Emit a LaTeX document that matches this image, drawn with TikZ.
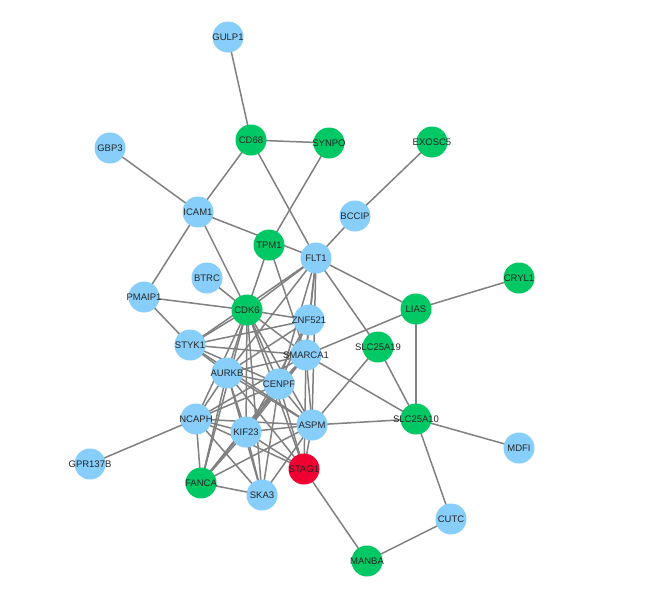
\documentclass[tikz,border=0pt]{standalone}
\usepackage{fontspec}
\setmainfont{Liberation Sans}
\definecolor{nblue}{RGB}{135,206,250}
\definecolor{ngreen}{RGB}{0,200,100}
\definecolor{nred}{RGB}{240,0,50}
\definecolor{edgegray}{RGB}{128,128,128}
\begin{document}
\begin{tikzpicture}[x=1pt,y=-1pt,
  lab/.style={text=black!85,font=\fontsize{9.5}{10}\selectfont,inner sep=0pt},
  gene/.style={circle,minimum size=31pt,inner sep=0pt,label={[lab]center:#1}},
  bg/.style={gene=#1,fill=nblue},
  gg/.style={gene=#1,fill=ngreen},
  rg/.style={gene=#1,fill=nred},
  link/.style={draw=edgegray,line width=1.5pt}]
\useasboundingbox (0,0) rectangle (660,600);
\fill[white] (0,0) rectangle (660,600);
\path
 (228,37) coordinate (cGULP1)
 (110,148) coordinate (cGBP3)
 (251,140) coordinate (cCD68)
 (329,143) coordinate (cSYNPO)
 (432,142) coordinate (cEXOSC5)
 (198,212) coordinate (cICAM1)
 (355,216) coordinate (cBCCIP)
 (269,245) coordinate (cTPM1)
 (316,258) coordinate (cFLT1)
 (519,278) coordinate (cCRYL1)
 (207,278) coordinate (cBTRC)
 (144,297) coordinate (cPMAIP1)
 (247,310) coordinate (cCDK6)
 (309,320) coordinate (cZNF521)
 (416,309) coordinate (cLIAS)
 (378,347) coordinate (cSLC25A19)
 (190,345) coordinate (cSTYK1)
 (306,355) coordinate (cSMARCA1)
 (227,373) coordinate (cAURKB)
 (279,384) coordinate (cCENPF)
 (196,419) coordinate (cNCAPH)
 (246,432) coordinate (cKIF23)
 (312,425) coordinate (cASPM)
 (416,419) coordinate (cSLC25A10)
 (519,448) coordinate (cMDFI)
 (90,464) coordinate (cGPR137B)
 (304,469) coordinate (cSTAG1)
 (201,483) coordinate (cFANCA)
 (262,495) coordinate (cSKA3)
 (451,519) coordinate (cCUTC)
 (367,561) coordinate (cMANBA);
% edges
\foreach \a/\b in {GULP1/CD68,CD68/SYNPO,CD68/ICAM1,CD68/FLT1,SYNPO/TPM1,EXOSC5/BCCIP,BCCIP/FLT1,
 GBP3/ICAM1,ICAM1/FLT1,ICAM1/PMAIP1,ICAM1/CDK6,BTRC/CDK6,PMAIP1/CDK6,PMAIP1/STYK1,
 FLT1/LIAS,FLT1/SLC25A19,FLT1/ZNF521,FLT1/SMARCA1,FLT1/ASPM,FLT1/STYK1,FLT1/AURKB,FLT1/CDK6,FLT1/CENPF,
 TPM1/CDK6,TPM1/SMARCA1,
 LIAS/CRYL1,LIAS/SLC25A10,LIAS/SMARCA1,SLC25A19/SLC25A10,SLC25A19/ASPM,SMARCA1/SLC25A10,
 SLC25A10/ASPM,SLC25A10/MDFI,SLC25A10/CUTC,CUTC/MANBA,MANBA/STAG1,GPR137B/NCAPH,NCAPH/FANCA,FANCA/SKA3,
 CDK6/ZNF521,CDK6/SMARCA1,CDK6/STYK1,CDK6/AURKB,CDK6/CENPF,CDK6/NCAPH,CDK6/KIF23,CDK6/ASPM,CDK6/SKA3,CDK6/FANCA,CDK6/STAG1,
 ZNF521/STYK1,ZNF521/AURKB,ZNF521/SMARCA1,ZNF521/KIF23,ZNF521/CENPF,
 STYK1/SMARCA1,STYK1/AURKB,STYK1/CENPF,STYK1/ASPM,
 SMARCA1/AURKB,SMARCA1/CENPF,SMARCA1/KIF23,SMARCA1/ASPM,SMARCA1/NCAPH,SMARCA1/FANCA,SMARCA1/STAG1,
 AURKB/CENPF,AURKB/NCAPH,AURKB/KIF23,AURKB/ASPM,AURKB/SKA3,AURKB/STAG1,AURKB/FANCA,
 CENPF/NCAPH,CENPF/KIF23,CENPF/ASPM,CENPF/SKA3,CENPF/FANCA,CENPF/STAG1,
 NCAPH/KIF23,NCAPH/ASPM,NCAPH/STAG1,NCAPH/SKA3,
 KIF23/ASPM,KIF23/STAG1,KIF23/SKA3,KIF23/FANCA,
 ASPM/STAG1,ASPM/SKA3,ASPM/FANCA}
 \draw[link] (c\a) -- (c\b);
% nodes
\node[bg=GULP1] (GULP1) at (cGULP1) {};
\node[bg=GBP3] (GBP3) at (cGBP3) {};
\node[gg=CD68] (CD68) at (cCD68) {};
\node[gg=SYNPO] (SYNPO) at (cSYNPO) {};
\node[gg=EXOSC5] (EXOSC5) at (cEXOSC5) {};
\node[bg=ICAM1] (ICAM1) at (cICAM1) {};
\node[bg=BCCIP] (BCCIP) at (cBCCIP) {};
\node[gg=TPM1] (TPM1) at (cTPM1) {};
\node[bg=FLT1] (FLT1) at (cFLT1) {};
\node[gg=CRYL1] (CRYL1) at (cCRYL1) {};
\node[bg=BTRC] (BTRC) at (cBTRC) {};
\node[bg=PMAIP1] (PMAIP1) at (cPMAIP1) {};
\node[gg=CDK6] (CDK6) at (cCDK6) {};
\node[bg=ZNF521] (ZNF521) at (cZNF521) {};
\node[gg=LIAS] (LIAS) at (cLIAS) {};
\node[gg=SLC25A19] (SLC25A19) at (cSLC25A19) {};
\node[bg=STYK1] (STYK1) at (cSTYK1) {};
\node[bg=SMARCA1] (SMARCA1) at (cSMARCA1) {};
\node[bg=AURKB] (AURKB) at (cAURKB) {};
\node[bg=CENPF] (CENPF) at (cCENPF) {};
\node[bg=NCAPH] (NCAPH) at (cNCAPH) {};
\node[bg=KIF23] (KIF23) at (cKIF23) {};
\node[bg=ASPM] (ASPM) at (cASPM) {};
\node[gg=SLC25A10] (SLC25A10) at (cSLC25A10) {};
\node[bg=MDFI] (MDFI) at (cMDFI) {};
\node[bg=GPR137B] (GPR137B) at (cGPR137B) {};
\node[rg=STAG1] (STAG1) at (cSTAG1) {};
\node[gg=FANCA] (FANCA) at (cFANCA) {};
\node[bg=SKA3] (SKA3) at (cSKA3) {};
\node[bg=CUTC] (CUTC) at (cCUTC) {};
\node[gg=MANBA] (MANBA) at (cMANBA) {};
\end{tikzpicture}
\end{document}
